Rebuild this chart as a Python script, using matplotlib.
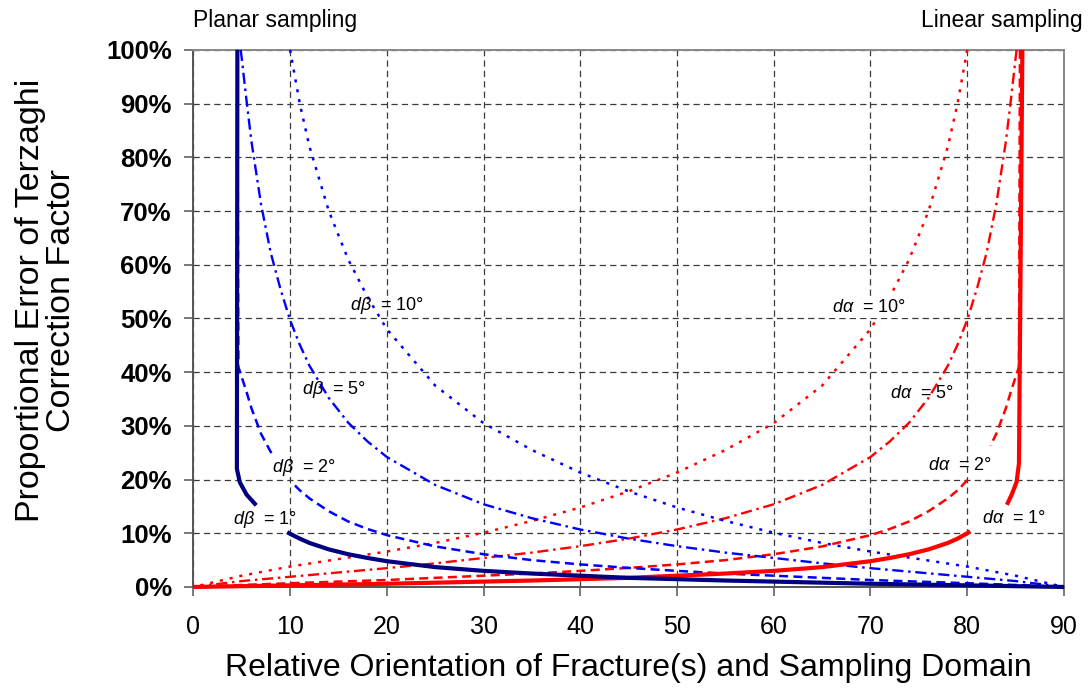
import numpy as np
import matplotlib
matplotlib.use("Agg")
import matplotlib.pyplot as plt
from matplotlib.ticker import FuncFormatter

nan = np.nan

# ---------------- data ----------------
# Planar sampling (d-beta curves), x = relative orientation (deg), y = proportional error
PLANAR_1_X = [4.55, 4.5, 4.8, 5.5, 6.5, 8, 9.7, 10, 11, 12, 14, 16, 18, 20, 25, 30, 35, 40, 45, 50, 55, 60, 65, 70, 75, 80, 85, 90]
PLANAR_1_Y = [1.00, 0.22, 0.195, 0.172, 0.152, nan, 0.102, 0.099, 0.090, 0.082, 0.070, 0.061, 0.054, 0.048, 0.037, 0.030, 0.025, 0.021, 0.017, 0.0145, 0.012, 0.010, 0.008, 0.006, 0.0045, 0.003, 0.0015, 0.0]

PLANAR_2_X = [4.55, 4.65, 5.5, 6, 7, 8.1, 9, 10.5, 11, 12, 14, 16, 18, 20, 25, 30, 35, 40, 45, 50, 55, 60, 65, 70, 75, 80, 85, 90]
PLANAR_2_Y = [1.00, 0.41, 0.363, 0.333, 0.285, 0.248, nan, 0.189, 0.180, 0.165, 0.141, 0.122, 0.108, 0.0965, 0.0755, 0.061, 0.050, 0.042, 0.0355, 0.030, 0.025, 0.021, 0.017, 0.013, 0.010, 0.007, 0.0037, 0.0]

PLANAR_5_X = [4.9, 5.5, 6, 7, 8, 9, 10, 11, 12, 14, 16, 18, 20, 25, 30, 35, 40, 45, 50, 55, 60, 65, 70, 75, 80, 85, 90]
PLANAR_5_Y = [1.00, 0.905, 0.83, 0.712, 0.622, 0.555, 0.497, 0.451, 0.412, 0.352, 0.306, 0.271, 0.242, 0.190, 0.154, 0.128, 0.107, 0.090, 0.076, 0.064, 0.054, 0.044, 0.035, 0.027, 0.019, 0.011, 0.0]

PLANAR_10_X = [10, 11, 12, 14, 16, 18, 20, 25, 30, 35, 40, 45, 50, 55, 60, 65, 70, 75, 80, 85, 90]
PLANAR_10_Y = [1.00, 0.90, 0.82, 0.70, 0.61, 0.54, 0.48, 0.375, 0.305, 0.255, 0.213, 0.178, 0.148, 0.123, 0.101, 0.082, 0.066, 0.052, 0.038, 0.021, 0.0]

# Linear sampling (d-alpha curves)
LINEAR_1_X = [85.7, 85.35, 85.1, 84.6, 84.1, 82, 80.3, 80, 79, 78, 76, 74, 72, 70, 65, 60, 55, 50, 45, 40, 35, 30, 25, 20, 15, 10, 5, 0]
LINEAR_1_Y = [1.00, 0.23, 0.195, 0.172, 0.153, nan, 0.104, 0.100, 0.090, 0.082, 0.070, 0.061, 0.054, 0.048, 0.037, 0.030, 0.025, 0.021, 0.017, 0.0145, 0.012, 0.010, 0.008, 0.006, 0.0045, 0.003, 0.0015, 0.0]

LINEAR_2_X = [85.45, 85.35, 84.5, 84, 83, 82.4, 81, 80, 79.5, 79, 78, 76, 74, 72, 70, 65, 60, 55, 50, 45, 40, 35, 30, 25, 20, 15, 10, 5, 0]
LINEAR_2_Y = [1.00, 0.41, 0.363, 0.333, 0.285, 0.263, nan, 0.199, 0.189, 0.180, 0.165, 0.141, 0.122, 0.108, 0.0965, 0.0755, 0.061, 0.050, 0.042, 0.0355, 0.030, 0.025, 0.021, 0.017, 0.013, 0.010, 0.007, 0.0037, 0.0]

LINEAR_5_X = [85.1, 84.5, 84, 83, 82, 81, 80, 79, 78, 76, 74, 72, 70, 65, 60, 55, 50, 45, 40, 35, 30, 25, 20, 15, 10, 5, 0]
LINEAR_5_Y = [1.00, 0.905, 0.83, 0.712, 0.622, 0.555, 0.497, 0.451, 0.412, 0.352, 0.306, 0.271, 0.242, 0.190, 0.154, 0.128, 0.107, 0.090, 0.076, 0.064, 0.054, 0.044, 0.035, 0.027, 0.019, 0.011, 0.0]

LINEAR_10_X = [80, 79, 78, 76, 74, 72, 70, 65, 60, 55, 50, 45, 40, 35, 30, 25, 20, 15, 10, 5, 0]
LINEAR_10_Y = [1.00, 0.90, 0.82, 0.70, 0.61, 0.54, 0.48, 0.375, 0.305, 0.255, 0.213, 0.178, 0.148, 0.123, 0.101, 0.082, 0.066, 0.052, 0.038, 0.021, 0.0]

X_TICKS = [0, 10, 20, 30, 40, 50, 60, 70, 80, 90]
Y_TICKS = [0.0, 0.1, 0.2, 0.3, 0.4, 0.5, 0.6, 0.7, 0.8, 0.9, 1.0]

PLANAR_LABELS = ["1°", "2°", "5°", "10°"]
LINEAR_LABELS = ["1°", "2°", "5°", "10°"]

# ---------------- style ----------------
plt.rcParams["font.family"] = ["Liberation Sans", "DejaVu Sans"]
plt.rcParams["mathtext.fontset"] = "custom"
plt.rcParams["mathtext.it"] = "Liberation Sans:italic"
plt.rcParams["mathtext.rm"] = "Liberation Sans"
plt.rcParams["lines.scale_dashes"] = False

fig = plt.figure(figsize=(10.9, 6.93), dpi=100)
ax = fig.add_axes([0.1774, 0.153, 0.7987, 0.775])

NAVY = "#000080"
BLUE = "#0000FF"
RED = "#FF0000"

DASH = (6.5, 3.8)
DASHDOT = (8.0, 3.4, 1.8, 3.4)
DOT = (2.2, 5.0)

common = dict(clip_on=False, solid_capstyle="butt", dash_capstyle="butt")

# Linear sampling (red)
ax.plot(LINEAR_10_X, LINEAR_10_Y, color=RED, lw=1.8, dashes=DOT, zorder=3, **common)
ax.plot(LINEAR_5_X, LINEAR_5_Y, color=RED, lw=1.7, dashes=DASHDOT, zorder=3, **common)
ax.plot(LINEAR_2_X, LINEAR_2_Y, color=RED, lw=1.8, dashes=DASH, zorder=3, **common)
ax.plot(LINEAR_1_X, LINEAR_1_Y, color=RED, lw=3.0, zorder=4, **common)

# Planar sampling (blue)
ax.plot(PLANAR_10_X, PLANAR_10_Y, color=BLUE, lw=1.8, dashes=DOT, zorder=3, **common)
ax.plot(PLANAR_5_X, PLANAR_5_Y, color=BLUE, lw=1.7, dashes=DASHDOT, zorder=3, **common)
ax.plot(PLANAR_2_X, PLANAR_2_Y, color=BLUE, lw=1.8, dashes=DASH, zorder=3, **common)
ax.plot(PLANAR_1_X, PLANAR_1_Y, color=NAVY, lw=3.0, zorder=4, **common)

# axes
ax.set_xlim(0, 90)
ax.set_ylim(0, 1.0)
ax.set_xticks(X_TICKS)
ax.set_yticks(Y_TICKS)
ax.yaxis.set_major_formatter(FuncFormatter(lambda v, p: f"{v*100:.0f}%"))
ax.grid(True, color="#3a3a3a", lw=0.9, dashes=(4.5, 3.0))
ax.set_axisbelow(True)

for s in ["left", "bottom"]:
    ax.spines[s].set_color("#555555")
    ax.spines[s].set_linewidth(1.4)
for s in ["top", "right"]:
    ax.spines[s].set_color("#888888")
    ax.spines[s].set_linewidth(1.4)

ax.tick_params(axis="both", direction="out", length=6.5, width=1.1, color="#555555")
ax.tick_params(axis="y", pad=9, labelsize=18.5)
ax.tick_params(axis="x", pad=14, labelsize=18)
for t in ax.get_yticklabels():
    t.set_fontweight("bold")

# axis titles
fig.text(0.5766, 1 - 668 / 693, "Relative Orientation of Fracture(s) and Sampling Domain",
         ha="center", va="center", fontsize=23)
fig.text(46 / 1090, 1 - 300 / 693, "Proportional Error of Terzaghi\nCorrection Factor",
         ha="center", va="center", rotation=90, fontsize=24.5, linespacing=1.0,
         multialignment="center")

# top captions
fig.text(193 / 1090, 1 - 20 / 693, "Planar sampling", ha="left", va="center", fontsize=16.5)
fig.text(1083 / 1090, 1 - 20 / 693, "Linear sampling", ha="right", va="center", fontsize=16.5)

# curve labels
planar_pos = [(4.1, 0.125), (8.1, 0.223), (11.2, 0.367), (16.2, 0.525)]
linear_pos = [(81.5, 0.128), (75.9, 0.227), (72.0, 0.361), (66.0, 0.521)]
for lab, (x, y) in zip(PLANAR_LABELS, planar_pos):
    ax.text(x, y, r"$d\beta$  = " + lab, ha="left", va="center", fontsize=13, zorder=6)
for i, (lab, (x, y)) in enumerate(zip(LINEAR_LABELS, linear_pos)):
    kw = {}
    if i == 3:
        kw["bbox"] = dict(facecolor="white", edgecolor="none", pad=2)
    ax.text(x, y, r"$d\alpha$  = " + lab, ha="left", va="center", fontsize=13, zorder=6, **kw)

fig.savefig("out.png", dpi=100)
